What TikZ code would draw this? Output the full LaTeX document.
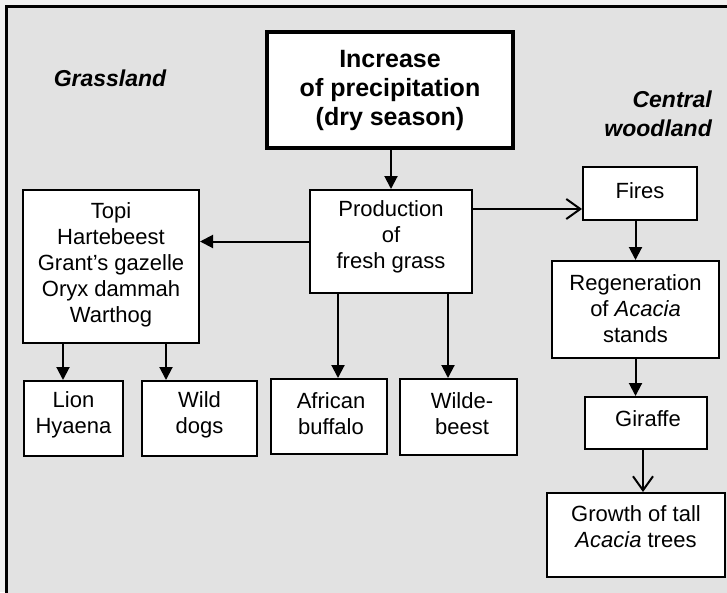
\documentclass[tikz,border=0pt]{standalone}
\usepackage{fontspec}
\setmainfont{Liberation Sans}
\usetikzlibrary{arrows.meta}
\definecolor{bg}{HTML}{E2E2E2}
\begin{document}
\begin{tikzpicture}[x=1pt,y=-1pt,
  box/.style={draw=black,fill=white,line width=2pt,inner sep=0pt,align=center,
    font=\fontsize{22}{26}\selectfont},
  txt/.style={inner sep=0pt,align=center,font=\fontsize{22}{26}\selectfont},
  head/.style={inner sep=0pt,align=center,font=\fontsize{23}{29}\selectfont\bfseries\itshape},
  arr/.style={line width=2pt,-{Triangle[length=13pt,width=13pt]}},
  oarr/.style={line width=2pt,-{Straight Barb[length=14pt,width=20pt,line width=2pt]}}]
\useasboundingbox (0,0) rectangle (727,592);
\fill[white!94!black] (0,0) rectangle (727,592);
\fill[bg] (6,6) rectangle (740,600);
\draw[line width=3pt] (6,600) -- (6,6) -- (740,6);

\node[box,line width=3.5pt,minimum width=246pt,minimum height=116pt,
  font=\fontsize{25}{29}\selectfont\bfseries] (inc) at (390,90)
  {Increase\\of precipitation\\(dry season)};
\node[box,minimum width=162pt,minimum height=103pt] (prod) at (391,241.5) {};
\node[txt] (prodt) at (391,237) {Production\\of\\fresh grass};
\node[box,minimum width=176pt,minimum height=153pt] (topi) at (111,266.5) {};
\node[txt] (topit) at (111,264.5) {Topi\\Hartebeest\\Grant’s gazelle\\Oryx dammah\\Warthog};
\node[box,minimum width=99pt,minimum height=75pt] (lion) at (73.5,418.5) {};
\node[txt] (liont) at (73.5,415) {Lion\\Hyaena};
\node[box,minimum width=115pt,minimum height=75pt] (dogs) at (199.5,418.5) {};
\node[txt] (dogst) at (199.5,415) {Wild\\dogs};
\node[box,minimum width=116pt,minimum height=75pt] (buff) at (329,416.5) {};
\node[txt] (bufft) at (331,413.5) {African\\buffalo};
\node[box,minimum width=117pt,minimum height=76pt] (wild) at (458.5,417) {};
\node[txt] (wildt) at (462,414) {Wilde-\\beest};
\node[box,minimum width=114pt,minimum height=53pt] (fires) at (640,193.5) {};
\node[txt] (firest) at (640,191) {Fires};
\node[box,minimum width=167pt,minimum height=97pt] (regen) at (635.5,309.5) {};
\node[txt] (regent) at (635.5,308.5) {Regeneration\\of \textit{Acacia}\\stands};
\node[box,minimum width=122pt,minimum height=52pt] (gir) at (646,423) {};
\node[txt] (girt) at (648,419) {Giraffe};
\node[box,minimum width=178pt,minimum height=84pt] (grow) at (636,535) {};
\node[txt] (growt) at (636,527) {Growth of tall\\\textit{Acacia} trees};

\node[head] (grass) at (110,78) {Grassland};
\node[head,align=right,anchor=east] (wood) at (712,114) {Central\\woodland};

\draw[arr] (prod.north |- inc.south) -- (prod.north);
\draw[arr] (prod.west) -- (topi.east |- prod.west);
\coordinate (pf) at ([yshift=32.5pt]prod.east);
\draw[oarr] (pf) -- (fires.west |- pf);
\coordinate (t1) at ([xshift=-48pt]topi.south);
\coordinate (t2) at ([xshift=55pt]topi.south);
\draw[arr] (t1) -- (lion.north -| t1);
\draw[arr] (t2) -- (dogs.north -| t2);
\coordinate (p1) at ([xshift=-53pt]prod.south);
\coordinate (p2) at ([xshift=57pt]prod.south);
\draw[arr] (p1) -- (buff.north -| p1);
\draw[arr] (p2) -- (wild.north -| p2);
\draw[arr] (regen.north |- fires.south) -- (regen.north);
\draw[arr] (regen.south) -- (regen.south |- gir.north);
\coordinate (g1) at ([xshift=-3pt]gir.south);
\draw[oarr] (g1) -- (grow.north -| g1);
\end{tikzpicture}
\end{document}
